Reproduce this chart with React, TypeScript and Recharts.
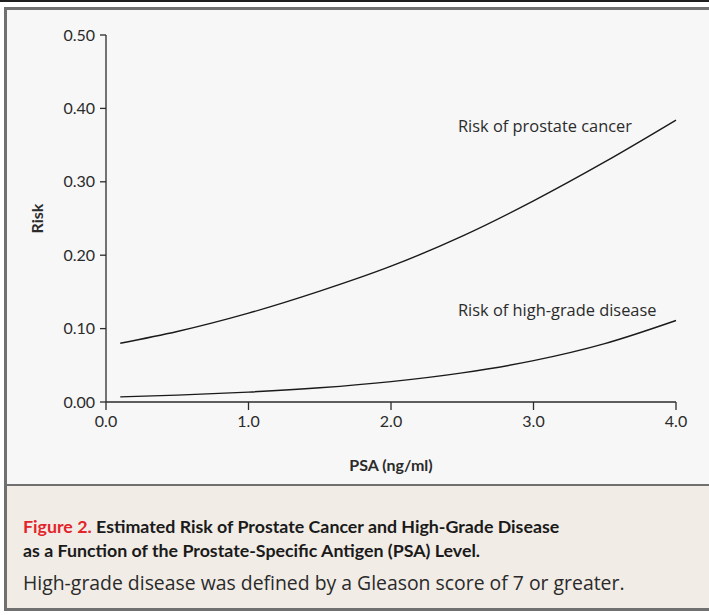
import React from 'react';
import { Label, Line, LineChart, XAxis, YAxis } from 'recharts';

const psa = [0.1, 0.5, 1.0, 1.5, 2.0, 2.5, 3.0, 3.5, 4.0];
const cancerRisk = [0.08, 0.096, 0.121, 0.151, 0.185, 0.226, 0.274, 0.327, 0.384];
const highGradeRisk = [0.007, 0.0094, 0.0135, 0.0194, 0.0278, 0.0397, 0.0563, 0.0795, 0.111];
const xTicks = [0, 1, 2, 3, 4];
const yTicks = [0, 0.1, 0.2, 0.3, 0.4, 0.5];

const data = psa.map((x, i) => ({ psa: x, cancer: cancerRisk[i], highGrade: highGradeRisk[i] }));

const font = 'Lato, "Open Sans", sans-serif';
const wide = '"Open Sans", Lato, sans-serif';
const ink = '#2b2b2b';
const border = '#707070';

export default function App() {
  return (
    <div
      style={{
        position: 'fixed',
        left: 0,
        top: 0,
        width: 709,
        height: 615,
        background: '#ffffff',
        fontFamily: font,
        overflow: 'hidden',
      }}
    >
      <div style={{ position: 'absolute', left: 0, top: 0, width: 709, height: 2, background: '#1e1e1e' }} />
      <div
        style={{
          position: 'absolute',
          left: 4,
          top: 7,
          width: 708,
          height: 604,
          boxSizing: 'border-box',
          border: `3px solid ${border}`,
          background: '#f7f7f7',
        }}
      />
      <div
        style={{
          position: 'absolute',
          left: 7,
          top: 484,
          width: 705,
          height: 124,
          boxSizing: 'border-box',
          borderTop: `2px solid ${border}`,
          background: '#f1ece6',
        }}
      />

      <div style={{ position: 'absolute', left: 0, top: 0 }}>
        <LineChart
          width={709}
          height={480}
          data={data}
          margin={{ top: 35, right: 33, bottom: 0, left: 0 }}
          style={{ fontFamily: font }}
        >
          <XAxis
            dataKey="psa"
            type="number"
            domain={[0, 4]}
            ticks={xTicks}
            height={78}
            tickFormatter={(v: number) => v.toFixed(1)}
            tickSize={8}
            tickMargin={6}
            stroke={ink}
            tick={{ fill: ink, fontSize: 16, fontFamily: font }}
            axisLine={{ stroke: ink, strokeWidth: 1.3 }}
            tickLine={{ stroke: ink, strokeWidth: 1.3 }}
          >
            <Label
              value="PSA (ng/ml)"
              position="insideBottom"
              offset={9}
              style={{ fill: ink, fontSize: 16, fontWeight: 700, fontFamily: font }}
            />
          </XAxis>
          <YAxis
            type="number"
            domain={[0, 0.5]}
            ticks={yTicks}
            width={106}
            tickFormatter={(v: number) => v.toFixed(2)}
            tickSize={6}
            tickMargin={5}
            stroke={ink}
            tick={{ fill: ink, fontSize: 16, fontFamily: font }}
            axisLine={{ stroke: ink, strokeWidth: 1.3 }}
            tickLine={{ stroke: ink, strokeWidth: 1.3 }}
          >
            <Label
              value="Risk"
              angle={-90}
              position="insideLeft"
              offset={37}
              style={{ fill: ink, fontSize: 16, fontWeight: 700, fontFamily: font, textAnchor: 'middle' }}
            />
          </YAxis>
          <Line
            type="monotone"
            dataKey="cancer"
            stroke="#1a1a1a"
            strokeWidth={1.4}
            dot={false}
            isAnimationActive={false}
          />
          <Line
            type="monotone"
            dataKey="highGrade"
            stroke="#1a1a1a"
            strokeWidth={1.4}
            dot={false}
            isAnimationActive={false}
          />
        </LineChart>
      </div>

      <div
        style={{ position: 'absolute', left: 458, top: 114, fontSize: 16.4, fontFamily: wide, color: ink, whiteSpace: 'nowrap' }}
      >
        Risk of prostate cancer
      </div>
      <div
        style={{ position: 'absolute', left: 458, top: 298, fontSize: 16.4, fontFamily: wide, color: ink, whiteSpace: 'nowrap' }}
      >
        Risk of high-grade disease
      </div>

      <div
        style={{
          position: 'absolute',
          left: 23,
          top: 514,
          fontSize: 17.8,
          lineHeight: '24px',
          fontWeight: 700,
          color: '#1a1a1a',
          whiteSpace: 'nowrap',
        }}
      >
        <span style={{ color: '#e3242b' }}>Figure 2.</span> Estimated Risk of Prostate Cancer and High-Grade Disease
        <br />
        as a Function of the Prostate-Specific Antigen (PSA) Level.
      </div>
      <div
        style={{
          position: 'absolute',
          left: 23,
          top: 569,
          fontSize: 19.4,
          lineHeight: '27px',
          fontFamily: wide,
          color: '#2a2a2a',
          whiteSpace: 'nowrap',
        }}
      >
        High-grade disease was defined by a Gleason score of 7 or greater.
      </div>
    </div>
  );
}
